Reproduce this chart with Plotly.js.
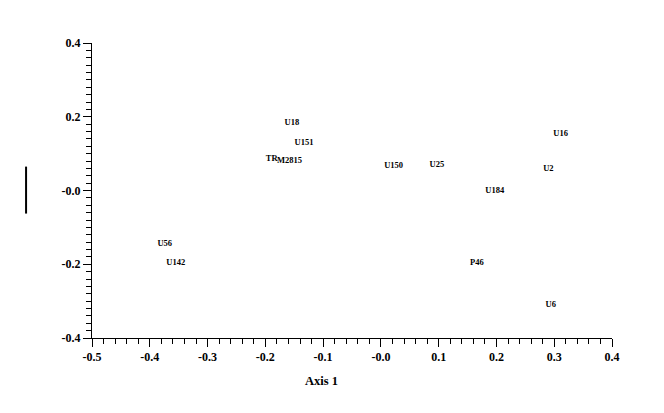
<!DOCTYPE html>
<html>
<head>
<meta charset="utf-8">
<script src="https://cdn.plot.ly/plotly-3.0.1.min.js"></script>
<style>html,body{margin:0;padding:0;background:#fff;}#chart{width:664px;height:413px;}</style>
</head>
<body>
<div id="chart"></div>
<script>
const labels = ["U18","U151","TR","M2815","U150","U25","U16","U2","U184","U56","U142","P46","U6"];
const axis1 = [-0.154,-0.133,-0.189,-0.158,0.022,0.097,0.311,0.290,0.197,-0.374,-0.355,0.166,0.294];
const axis2 = [0.183,0.129,0.087,0.079,0.066,0.069,0.153,0.058,-0.001,-0.145,-0.197,-0.197,-0.311];
const xTickVals = [-0.5,-0.4,-0.3,-0.2,-0.1,0.0,0.1,0.2,0.3,0.4];
const xTickText = ["-0.5","-0.4","-0.3","-0.2","-0.1","-0.0","0.1","0.2","0.3","0.4"];
const yTickVals = [-0.4,-0.2,0.0,0.2,0.4];
const yTickText = ["-0.4","-0.2","-0.0","0.2","0.4"];

const serif = "Liberation Serif, Times New Roman, serif";
const trace = {
  x: axis1, y: axis2, text: labels, mode: "text", type: "scatter",
  textposition: "middle center",
  textfont: {family: serif, size: 8.5, color: "#000", weight: "bold"},
  hoverinfo: "none", showlegend: false, cliponaxis: false
};
const axisCommon = {
  showgrid: false, zeroline: false, showline: true, linecolor: "#000", linewidth: 1,
  ticks: "outside", ticklen: 8, tickwidth: 1, tickcolor: "#000",
  tickfont: {family: serif, size: 12, color: "#000", weight: "bold"},
  tickmode: "array",
  minor: {tickmode: "linear", tick0: 0, dtick: 0.02, ticks: "outside", ticklen: 5, tickwidth: 1, tickcolor: "#000", showgrid: false}
};
const layout = {
  width: 664, height: 413,
  margin: {l: 92, r: 51.5, t: 43.3, b: 74.5},
  paper_bgcolor: "#fff", plot_bgcolor: "#fff",
  xaxis: Object.assign({}, axisCommon, {range: [-0.5, 0.4], tickvals: xTickVals, ticktext: xTickText}),
  yaxis: Object.assign({}, axisCommon, {range: [-0.4, 0.4], tickvals: yTickVals, ticktext: yTickText}),
  annotations: [{
    text: "Axis 1", xref: "paper", yref: "paper", x: 0.442, y: -0.147,
    showarrow: false, font: {family: serif, size: 12.5, color: "#000", weight: "bold"},
    xanchor: "center", yanchor: "middle"
  }],
  shapes: [{
    type: "line", xref: "paper", yref: "paper",
    x0: -0.1268, x1: -0.1268, y0: 0.4218, y1: 0.581,
    line: {color: "#000", width: 2}
  }]
};
Plotly.newPlot("chart", [trace], layout, {staticPlot: true, displayModeBar: false});
</script>
</body>
</html>
